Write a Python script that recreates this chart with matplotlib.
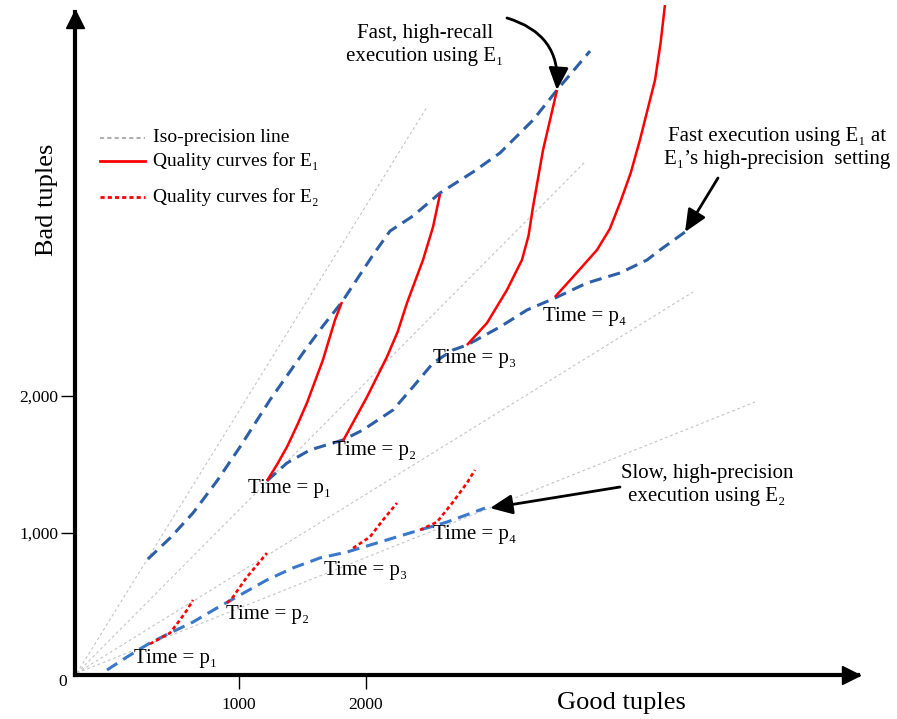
import matplotlib
matplotlib.use("Agg")
import matplotlib.pyplot as plt
from matplotlib.lines import Line2D
from matplotlib.transforms import offset_copy

plt.rcParams["font.family"] = ["Liberation Serif", "DejaVu Serif"]

# ---- data (good tuples on x, bad tuples on y) ----
iso_origin = (-276, -22)
iso_end_x = [2480, 3724, 4575, 5063]
iso_end_y = [4109, 3708, 2759, 1956]

# E1, high-recall setting
e1_recall_x = [283, 457, 638, 827, 1008, 1244, 1504, 1661, 1811, 2055, 2189, 2370,
               2583, 2843, 3055, 3157, 3315, 3504, 3764]
e1_recall_y = [810, 963, 1146, 1380, 1628, 1971, 2314, 2511, 2686, 3029, 3204, 3314,
               3482, 3635, 3774, 3868, 4014, 4233, 4518]

# E1, high-precision setting
e1_prec_x = [1220, 1378, 1559, 1819, 1976, 2213, 2370, 2528, 2685, 2795, 3055, 3268,
             3488, 3740, 4000, 4213, 4315, 4512]
e1_prec_y = [1380, 1511, 1606, 1679, 1752, 1898, 2066, 2241, 2336, 2372, 2504, 2628,
             2715, 2825, 2898, 2993, 3066, 3197]

# E2 execution
e2_x = [-39, 118, 299, 457, 638, 827, 1008, 1220, 1425, 1638, 1850, 2110, 2370, 2638, 2937]
e2_y = [0, 95, 197, 270, 350, 453, 547, 657, 745, 818, 861, 934, 1007, 1080, 1182]

# quality curves for E1 at times p1..p4
q1_x = [[1220, 1300, 1378, 1460, 1535, 1661, 1756, 1811],
        [1819, 2008, 2165, 2250, 2323, 2449, 2528, 2583],
        [2795, 2953, 3110, 3228, 3280, 3315, 3394, 3504],
        [3488, 3630, 3819, 3920, 4000, 4085, 4157, 4276, 4320, 4354]]
q1_y = [[1380, 1500, 1628, 1790, 1949, 2263, 2555, 2686],
        [1672, 1993, 2285, 2470, 2679, 2993, 3234, 3474],
        [2372, 2533, 2774, 2993, 3170, 3380, 3795, 4233],
        [2723, 2869, 3066, 3220, 3409, 3630, 3869, 4307, 4580, 4854]]

# quality curves for E2 at times p1..p4
q2_x = [[299, 457, 535, 591, 638],
        [906, 953, 1063, 1142, 1220],
        [1898, 2031, 2134, 2244],
        [2425, 2559, 2685, 2795, 2858]]
q2_y = [[190, 270, 365, 438, 511],
        [489, 533, 679, 766, 854],
        [890, 971, 1095, 1219],
        [1022, 1080, 1226, 1365, 1460]]

time_labels = ["Time = p\u2081", "Time = p\u2082", "Time = p\u2083", "Time = p\u2084"]
x_ticks = [1000, 2000]
x_tick_labels = ["1000", "2000"]
y_ticks = [1000, 2000]
y_tick_labels = ["1,000", "2,000"]

# ---- styles ----
BLUE1 = "#2d5fa8"
BLUE2 = "#3a78cc"
RED = "#ff0000"
GRAY = "#c4c4c4"

W, H = 897, 719
fig = plt.figure(figsize=(W / 100, H / 100), dpi=100)
ax = fig.add_axes([75 / W, 1 - 675 / H, (858 - 75) / W, (675 - 12) / H])
ax.set_xlim(-291, 5874)
ax.set_ylim(-36.5, 4803)


def fxy(px, py):
    return px / W, 1 - py / H


# iso-precision lines
for ex, ey in zip(iso_end_x, iso_end_y):
    ax.plot([iso_origin[0], ex], [iso_origin[1], ey], color=GRAY, lw=0.8,
            dashes=(2.5, 2.5), zorder=1)

# execution curves
ax.plot(e1_recall_x, e1_recall_y, color=BLUE1, lw=2.2, dashes=(4, 2.3), zorder=3)
ax.plot(e1_prec_x, e1_prec_y, color=BLUE1, lw=2.2, dashes=(4, 2.3), zorder=3)
ax.plot(e2_x, e2_y, color=BLUE2, lw=2.2, dashes=(4, 2.3), zorder=3)

for xs, ys in zip(q1_x, q1_y):
    ax.plot(xs, ys, color=RED, lw=1.8, zorder=4, clip_on=False,
            solid_capstyle="butt", solid_joinstyle="round")
for xs, ys in zip(q2_x, q2_y):
    ax.plot(xs, ys, color=RED, lw=1.9, dashes=(1.5, 1.1), zorder=4)

# time labels
for lab, (px, py) in zip(time_labels, [(290, 489), (375, 451), (475, 359), (585, 316)]):
    fig.text(*fxy(px, py), lab, ha="center", va="center", fontsize=15)
for lab, (px, py) in zip(time_labels, [(176, 659), (268, 615), (366, 570), (475, 534)]):
    fig.text(*fxy(px, py), lab, ha="center", va="center", fontsize=15)

# axes styling
for s in ["top", "right"]:
    ax.spines[s].set_visible(False)
for s in ["left", "bottom"]:
    ax.spines[s].set_linewidth(3)
    ax.spines[s].set_color("black")
ax.set_xticks(x_ticks, x_tick_labels, fontsize=12.5)
ax.set_yticks(y_ticks, y_tick_labels, fontsize=12.5)
ax.tick_params(axis="x", direction="out", length=10, width=1, pad=6)
ax.tick_params(axis="y", direction="out", length=10, width=1, pad=2)

# arrow heads at the ends of both axes
ax.plot(1, 0, ">", color="black", markersize=13, clip_on=False,
        transform=offset_copy(ax.transAxes, fig, x=-5, y=0, units="points"))
ax.plot(0, 1, "^", color="black", markersize=13, clip_on=False,
        transform=offset_copy(ax.transAxes, fig, x=0, y=-5, units="points"))
fig.text(*fxy(63, 682), "0", ha="center", va="center", fontsize=12.5)

fig.text(*fxy(621, 703), "Good tuples", ha="center", va="center", fontsize=19)
fig.text(*fxy(47, 200), "Bad tuples", ha="center", va="center", fontsize=19, rotation=90)

# legend
leg_items = [
    ("Iso-precision line", dict(color="#b0b0b0", lw=1.5, dashes=(2, 1.5)), 138),
    ("Quality curves for E\u2081", dict(color=RED, lw=2), 161),
    ("Quality curves for E\u2082", dict(color=RED, lw=2, dashes=(1.5, 1.1)), 197),
]
for lab, style, py in leg_items:
    x0, y0 = fxy(100, py)
    x1, _ = fxy(145, py)
    fig.add_artist(Line2D([x0, x1], [y0, y0], transform=fig.transFigure, **style))
    fig.text(*fxy(153, py), lab, ha="left", va="center", fontsize=14)

# annotations
arrow = dict(arrowstyle="-|>,head_length=0.9,head_width=0.4", color="black",
             lw=2.0, mutation_scale=15, shrinkA=0, shrinkB=0)

fig.text(*fxy(425, 45), "Fast, high-recall\nexecution using E\u2081", ha="center",
         va="center", fontsize=15, linespacing=1.3)
ax.annotate("", xy=(e1_recall_x[-2], e1_recall_y[-2]), xycoords="data",
            xytext=fxy(507, 18), textcoords="figure fraction",
            arrowprops=dict(connectionstyle="arc3,rad=-0.4", **arrow))

fig.text(*fxy(777, 148), "Fast execution using E\u2081 at\nE\u2081\u2019s high-precision  setting",
         ha="center", va="center", fontsize=15, linespacing=1.35)
ax.annotate("", xy=(e1_prec_x[-1], e1_prec_y[-1]), xycoords="data",
            xytext=fxy(718, 178), textcoords="figure fraction",
            arrowprops=dict(**arrow))

fig.text(*fxy(707, 485), "Slow, high-precision\nexecution using E\u2082", ha="center",
         va="center", fontsize=15, linespacing=1.25)
ax.annotate("", xy=(e2_x[-1] + 40, e2_y[-1]), xycoords="data",
            xytext=fxy(620, 487), textcoords="figure fraction",
            arrowprops=dict(**arrow))

fig.savefig("out.png", dpi=100)
